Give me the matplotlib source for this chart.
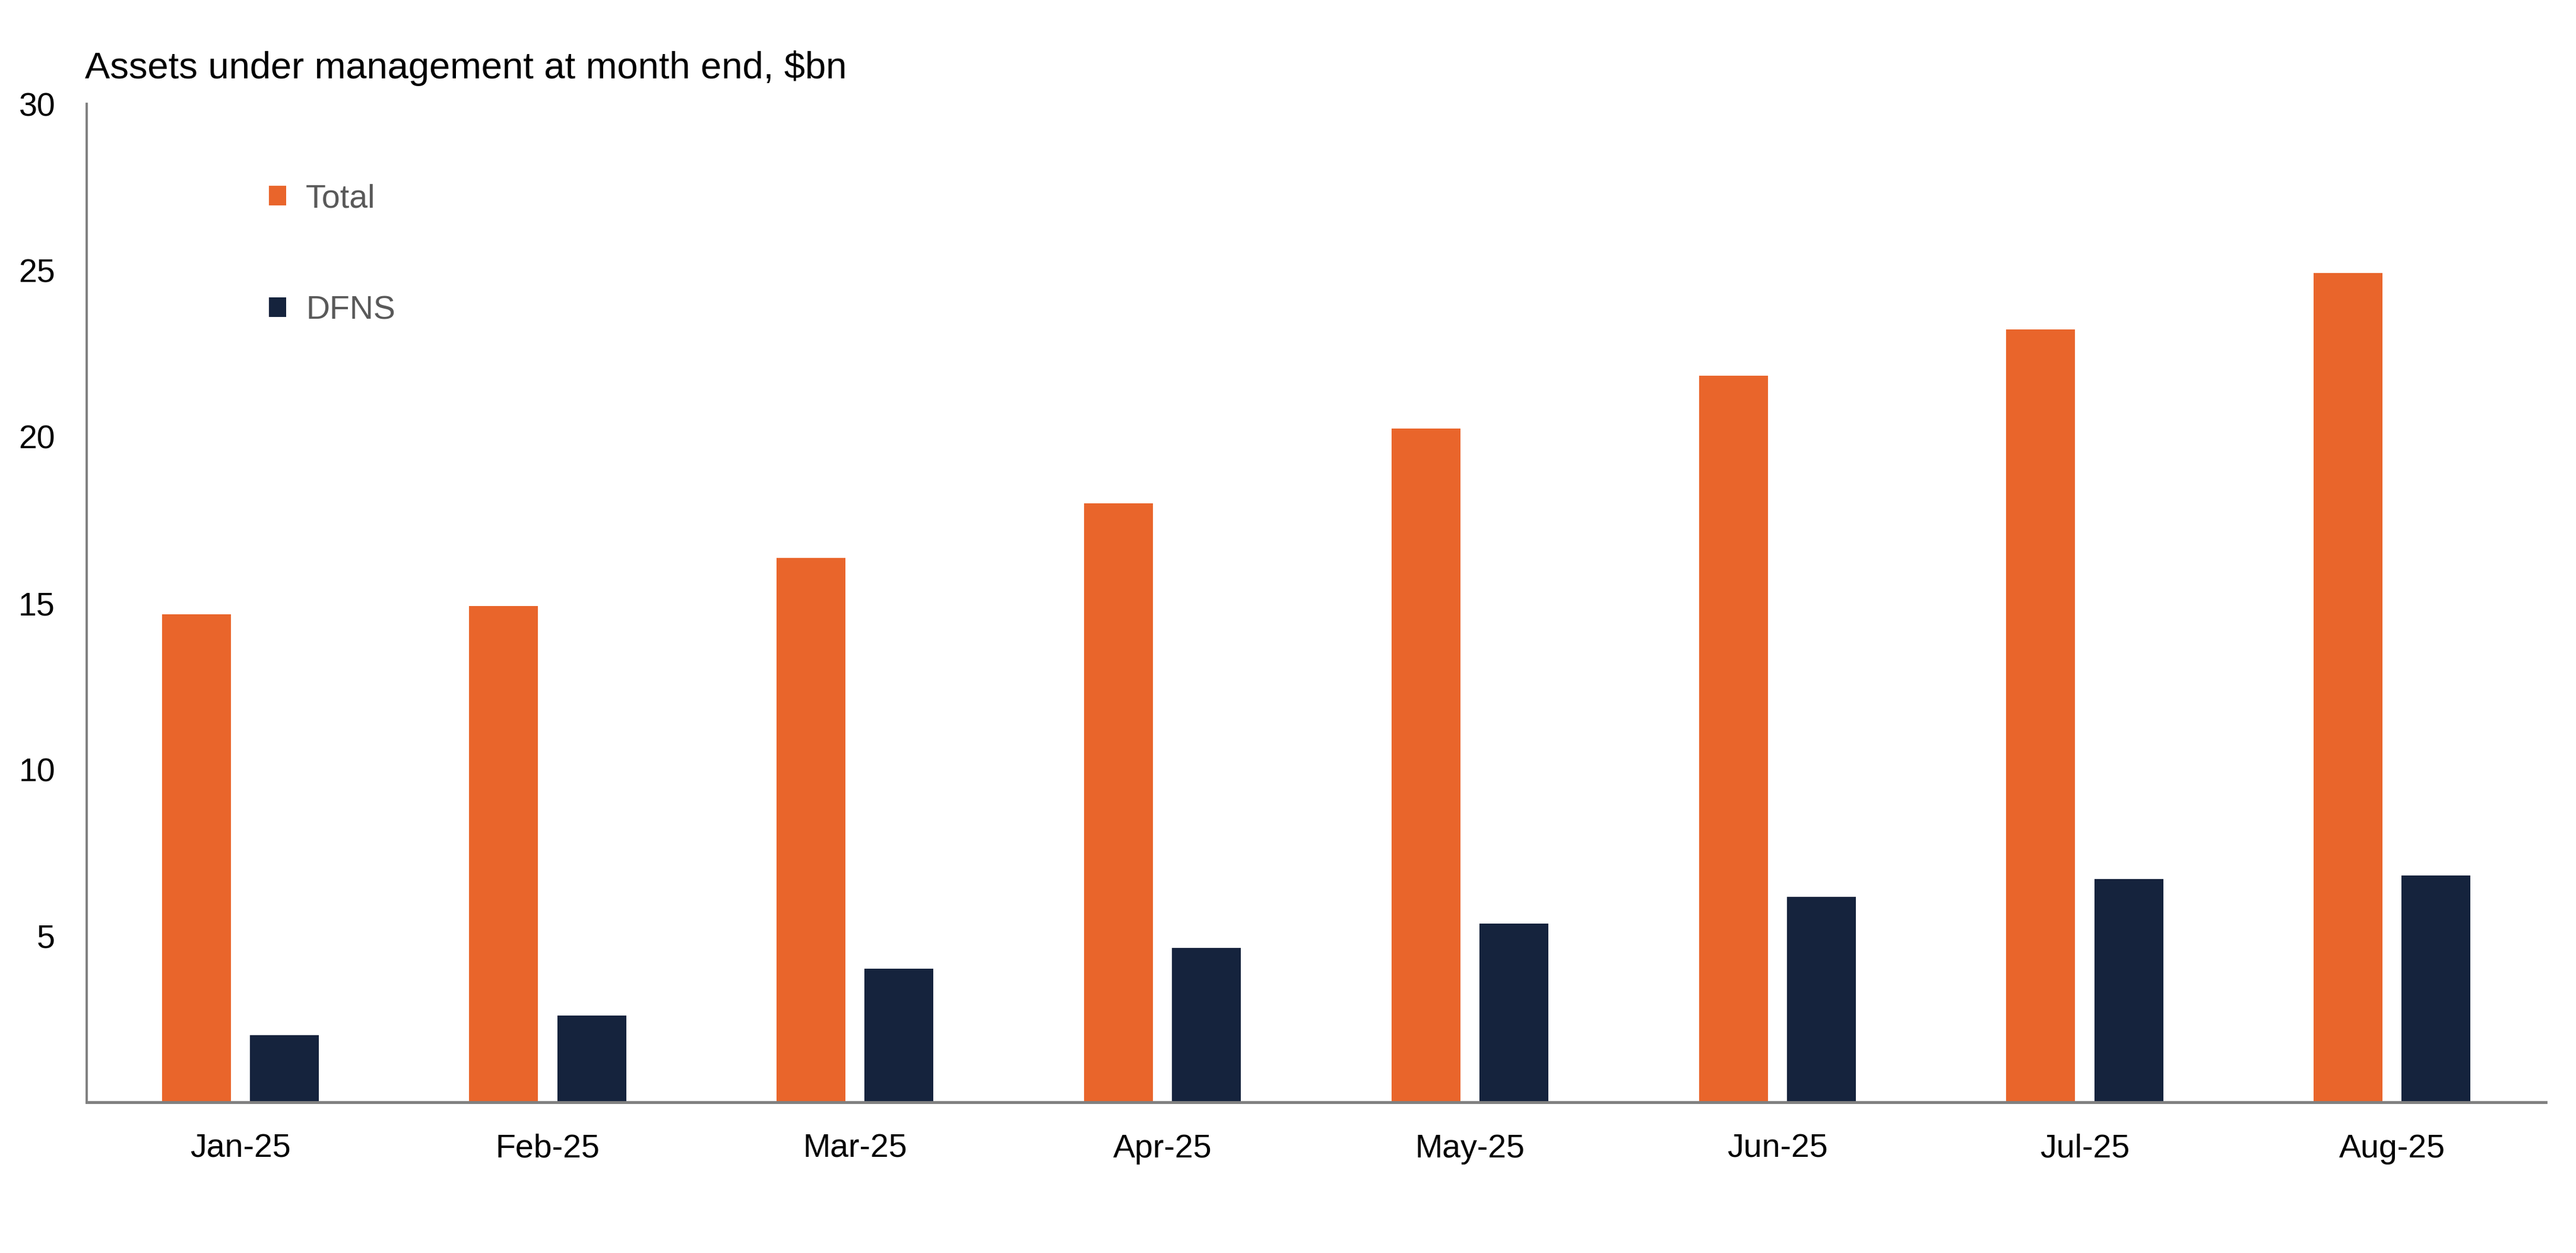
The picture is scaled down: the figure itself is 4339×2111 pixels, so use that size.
"""
Assets under management at month end, grouped bar chart.
"""

import numpy as np
import matplotlib
matplotlib.use("Agg")
import matplotlib.pyplot as plt

# Data ($bn)
months = ["Jan-25", "Feb-25", "Mar-25", "Apr-25", "May-25", "Jun-25", "Jul-25", "Aug-25"]
total = [14.67, 14.92, 16.36, 18.0, 20.25, 21.84, 23.22, 24.91]
dfns = [2.02, 2.61, 4.02, 4.64, 5.37, 6.17, 6.71, 6.82]
series_names = ["Total", "DFNS"]
y_ticks = [5, 10, 15, 20, 25, 30]

ORANGE = "#E9652B"
NAVY = "#15233D"
AXIS_GREY = "#808080"


def _main():
    plt.rcParams["font.family"] = ["Liberation Sans Narrow", "Liberation Sans", "DejaVu Sans"]

    fig = plt.figure(figsize=(43.39, 21.11), dpi=100)
    ax = fig.add_axes([0.0336, 0.1203, 0.9547, 0.7968])

    x = np.arange(len(months))
    width = 0.224
    offset = 0.143
    b1 = ax.bar(x - offset, total, width, color=ORANGE, label=series_names[0])
    b2 = ax.bar(x + offset, dfns, width, color=NAVY, label=series_names[1])

    ax.set_xlim(-0.5, len(months) - 0.5)
    ax.set_ylim(0, 30)
    ax.set_xticks(x)
    ax.set_xticklabels(months)
    ax.set_yticks(y_ticks)

    for side in ["top", "right"]:
        ax.spines[side].set_visible(False)
    ax.spines["left"].set_color(AXIS_GREY)
    ax.spines["left"].set_linewidth(2.8)
    ax.spines["bottom"].set_color(AXIS_GREY)
    ax.spines["bottom"].set_linewidth(3.5)

    ax.tick_params(axis="both", length=0, labelsize=40, colors="black")
    ax.tick_params(axis="x", pad=38)
    ax.tick_params(axis="y", pad=38)

    leg = ax.legend(
        handles=[b1, b2],
        loc="upper left",
        bbox_to_anchor=(0.1044, 0.8535),
        bbox_transform=fig.transFigure,
        frameon=False,
        fontsize=40,
        handlelength=0.52,
        handleheight=0.52,
        handletextpad=0.6,
        labelspacing=2.45,
        borderpad=0,
        borderaxespad=0,
    )
    for t in leg.get_texts():
        t.set_color("#595959")

    fig.text(
        0.033,
        1 - 132 / 2111,
        "Assets under management at month end, $bn",
        fontsize=45.5,
        ha="left",
        va="baseline",
    )

    fig.savefig("out.png", dpi=100)


if __name__ == "__main__":
    _main()
